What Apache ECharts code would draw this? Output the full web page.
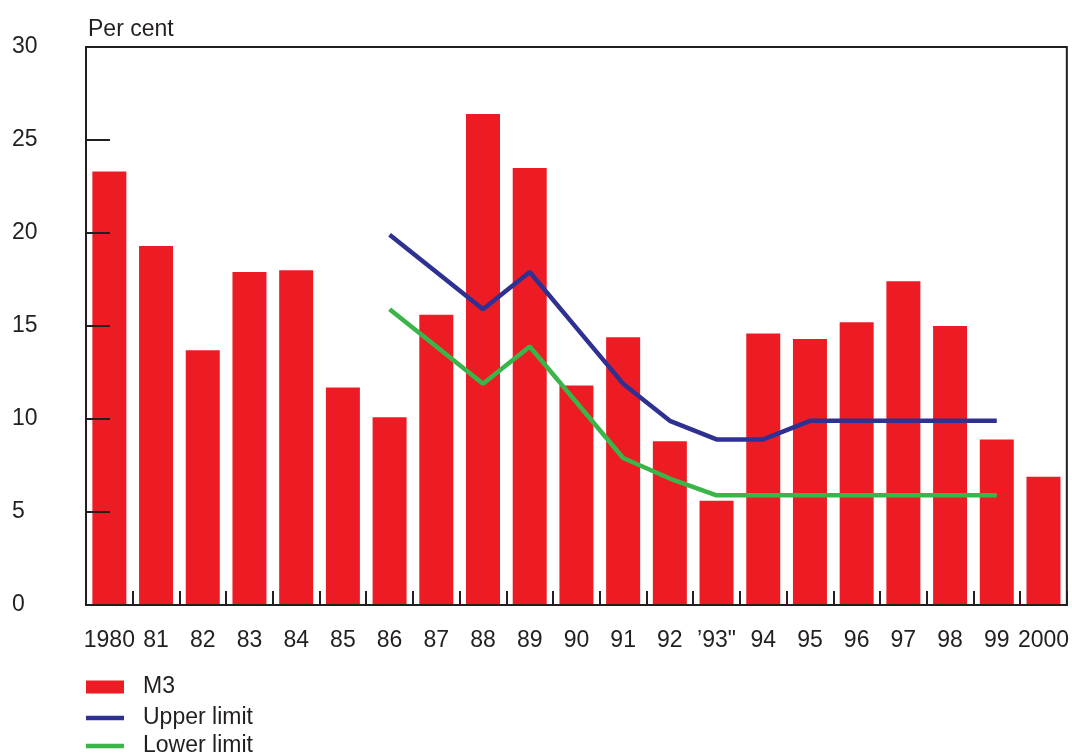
<!DOCTYPE html>
<html>
<head>
<meta charset="utf-8">
<script src="https://cdn.jsdelivr.net/npm/echarts@6/dist/echarts.min.js"></script>
<style>
html,body{margin:0;padding:0;background:#fff;}
#chart{width:1072px;height:754px;}
</style>
</head>
<body>
<div id="chart"></div>
<script>
var categories = ['1980','81','82','83','84','85','86','87','88','89','90','91','92','\u201993"','94','95','96','97','98','99','2000'];
var m3 = [23.3, 19.3, 13.7, 17.9, 18.0, 11.7, 10.1, 15.6, 26.4, 23.5, 11.8, 14.4, 8.8, 5.6, 14.6, 14.3, 15.2, 17.4, 15.0, 8.9, 6.9];
var upperLimit = [null, null, null, null, null, null, 19.9, 17.9, 15.9, 17.9, 14.9, 11.9, 9.9, 8.9, 8.9, 9.9, 9.9, 9.9, 9.9, 9.9, null];
var lowerLimit = [null, null, null, null, null, null, 15.9, 13.9, 11.9, 13.9, 10.9, 7.9, 6.8, 5.9, 5.9, 5.9, 5.9, 5.9, 5.9, 5.9, null];
var yTicks = [0, 5, 10, 15, 20, 25, 30];

var ink = '#231f20';
var font = 'Liberation Sans, Arial, Helvetica, sans-serif';
function legendItem(name, top, h) {
  return {
    orient: 'vertical', left: 86, top: top, padding: 0,
    itemWidth: 38, itemHeight: h,
    selectedMode: false,
    textStyle: {fontFamily: font, fontSize: 23, color: ink, lineHeight: 24, padding: [0, 0, 0, 14]},
    data: [{name: name, icon: 'rect'}]
  };
}
var chart = echarts.init(document.getElementById('chart'));
chart.setOption({
  animation: false,
  backgroundColor: '#fff',
  textStyle: {fontFamily: font},
  title: {
    text: 'Per cent', left: 88, top: 18, padding: 0,
    textStyle: {fontFamily: font, fontSize: 23, fontWeight: 'normal', color: ink}
  },
  legend: [
    legendItem('M3', 675, 13),
    legendItem('Upper limit', 706, 4.5),
    legendItem('Lower limit', 734, 4.5)
  ],
  grid: {
    left: 86, right: 2, top: 47, bottom: 149,
    show: true, borderColor: ink, borderWidth: 2, backgroundColor: 'transparent'
  },
  xAxis: {
    type: 'category', data: categories, z: 10,
    axisLine: {lineStyle: {color: ink, width: 2}},
    axisTick: {show: true, inside: true, length: 14, alignWithLabel: false, lineStyle: {color: ink, width: 2}},
    axisLabel: {interval: 0, color: ink, fontSize: 23, fontFamily: font, margin: 24, hideOverlap: false},
    splitLine: {show: false}
  },
  yAxis: {
    type: 'value', min: 0, max: 30, interval: 5, z: 10,
    axisLine: {show: true, lineStyle: {color: ink, width: 2}},
    axisTick: {show: true, inside: true, length: 24, lineStyle: {color: ink, width: 2}},
    axisLabel: {
      color: ink, fontSize: 23, fontFamily: font, align: 'left', margin: 74,
      formatter: function (v) { return yTicks.indexOf(v) >= 0 ? String(v) : ''; }
    },
    splitLine: {show: false}
  },
  series: [
    {
      name: 'M3', type: 'bar', data: m3, barWidth: 34,
      itemStyle: {color: '#ed1c24'}
    },
    {
      name: 'Upper limit', type: 'line', data: upperLimit, symbol: 'none',
      lineStyle: {color: '#2e3192', width: 4.5}, itemStyle: {color: '#2e3192'}, z: 3
    },
    {
      name: 'Lower limit', type: 'line', data: lowerLimit, symbol: 'none',
      lineStyle: {color: '#39b54a', width: 4.5}, itemStyle: {color: '#39b54a'}, z: 3
    }
  ]
});
</script>
</body>
</html>
